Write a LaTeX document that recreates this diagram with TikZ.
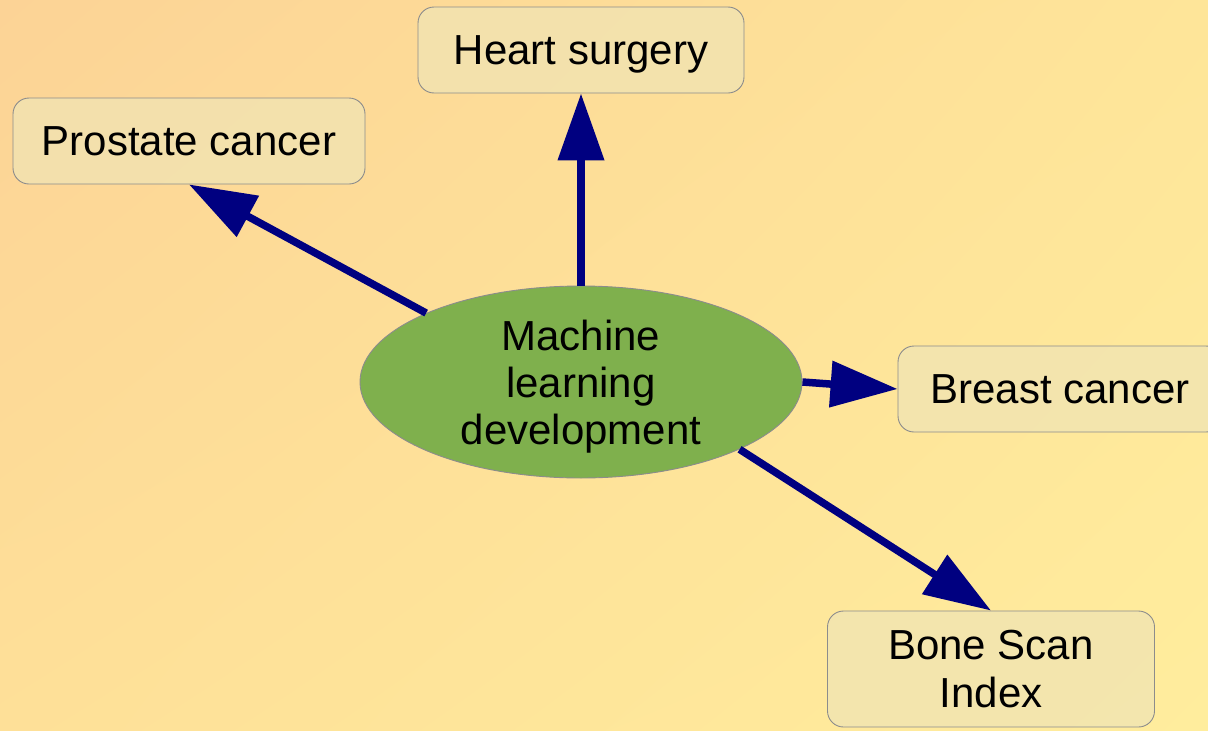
\documentclass[tikz,border=0pt]{standalone}
\usepackage{fontspec}
\setmainfont{Liberation Sans}
\usetikzlibrary{shapes.geometric,arrows.meta,shadings}

\definecolor{bgA}{RGB}{252,211,150}
\definecolor{bgB}{RGB}{254,229,153}
\definecolor{bgC}{RGB}{254,224,152}
\definecolor{bgD}{RGB}{255,237,157}
\definecolor{boxfill}{RGB}{240,228,180}
\definecolor{boxline}{RGB}{140,140,140}
\definecolor{hubfill}{RGB}{127,176,77}
\definecolor{navy}{RGB}{0,0,128}

\tikzset{
  topic/.style={draw=boxline, line width=0.9pt, fill=boxfill, fill opacity=0.75,
    text opacity=1, rounded corners=16pt, inner sep=0pt, align=center,
    minimum height=86pt, text depth=0pt, font=\fontsize{42}{48}\selectfont},
  hub/.style={ellipse, draw=boxline, line width=0.9pt, fill=hubfill,
    minimum width=442pt, minimum height=192pt, inner sep=0pt, align=center,
    text depth=0pt, font=\fontsize{42}{47}\selectfont},
  link/.style={draw=navy, line width=7.5pt,
    -{Triangle[length=67pt, width=45pt]}, shorten <=0pt},
}

\begin{document}
\begin{tikzpicture}[x=1pt, y=-1pt]
  % background
  \clip (0,0) rectangle (1208,731);
  \useasboundingbox (0,0) rectangle (1208,731);
  \shade[upper left=bgA, upper right=bgB, lower left=bgC, lower right=bgD]
    (0,0) rectangle (1208,731);

  % topic boxes
  \node[topic, minimum width=326pt] (heart) at (581,50) {Heart surgery};
  \node[topic, minimum width=352pt] (prostate) at (189,141) {Prostate cancer};
  \node[topic, minimum width=324pt] (breast) at (1060,389) {Breast cancer};
  \node[topic, minimum width=327pt, minimum height=116pt] (bone) at (991,669)
    {Bone Scan\\Index};

  % central ellipse
  \node[hub] (ml) at (581,382) {Machine\\learning\\development};

  % connectors
  \draw[link] (ml.north) -- (heart.south);
  \draw[link] (ml.156) -- (prostate.south);
  \draw[link] (ml.east) -- (breast.west);
  \draw[link] (ml.-23) -- (bone.north);
\end{tikzpicture}
\end{document}
